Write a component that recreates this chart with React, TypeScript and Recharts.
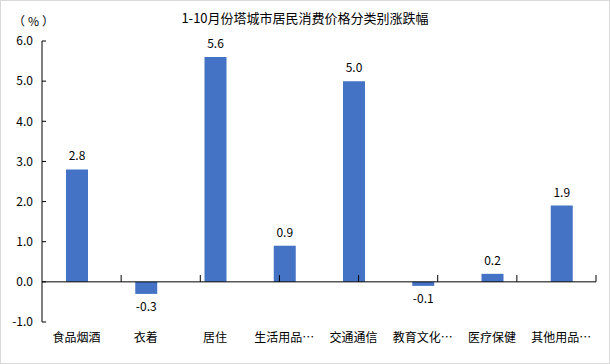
import React from 'react';
import { BarChart, Bar, XAxis, YAxis, ReferenceLine, LabelList } from 'recharts';

const categories = ['食品烟酒', '衣着', '居住', '生活用品…', '交通通信', '教育文化…', '医疗保健', '其他用品…'];
const changes = [2.8, -0.3, 5.6, 0.9, 5.0, -0.1, 0.2, 1.9];
const yTicks = [-1, 0, 1, 2, 3, 4, 5, 6];
const boundaries = [1, 2, 3, 4, 5, 6, 7, 8];

const data = categories.map((name, i) => ({ name, value: changes[i] }));

const FONT = "SimSun, 'Noto Sans CJK SC', sans-serif";

const ValueLabel = (props: any) => {
  const { x, y, width, height, value } = props;
  const top = Math.min(y, y + height);
  const bottom = Math.max(y, y + height);
  const ty = value >= 0 ? top - 9 : bottom + 17;
  return (
    <text x={x + width / 2} y={ty} textAnchor="middle" fontSize={12} fill="#000" fontFamily={FONT}>
      {Number(value).toFixed(1)}
    </text>
  );
};

export default function App() {
  return (
    <div
      style={{
        position: 'absolute',
        left: 0,
        top: 0,
        width: 610,
        height: 364,
        boxSizing: 'border-box',
        border: '1px solid #d9d9d9',
        background: '#fff',
        fontFamily: FONT,
      }}
    >
      <div style={{ position: 'absolute', left: 0, top: 9, width: 608, textAlign: 'center', fontSize: 13, lineHeight: '16px' }}>
        1-10月份塔城市居民消费价格分类别涨跌幅
      </div>
      <div style={{ position: 'absolute', left: 12, top: 12, fontSize: 12, lineHeight: '16px', letterSpacing: 3 }}>（%）</div>
      <BarChart width={608} height={362} data={data} margin={{ top: 40, right: 13, bottom: 11, left: 0 }}>
        <XAxis
          dataKey="name"
          axisLine={false}
          tickLine={false}
          tickSize={0}
          tickMargin={11}
          height={30}
          interval={0}
          tick={{ fontSize: 12, fill: '#000', fontFamily: FONT }}
        />
        <XAxis xAxisId="grid" type="number" domain={[0, 8]} hide />
        <YAxis
          domain={[-1, 6]}
          ticks={yTicks}
          width={41}
          tickSize={-4}
          tickMargin={13}
          interval={0}
          axisLine={{ stroke: '#000' }}
          tickLine={{ stroke: '#000' }}
          tickFormatter={(v: number) => v.toFixed(1)}
          tick={{ fontSize: 12, fill: '#000', fontFamily: FONT }}
        />
        <ReferenceLine y={0} stroke="#000" />
        {boundaries.map((b) => (
          <ReferenceLine
            key={b}
            xAxisId="grid"
            segment={[{ x: b, y: 0 }, { x: b, y: 0.17 }]}
            stroke="#000"
          />
        ))}
        <Bar dataKey="value" fill="#4472C4" barSize={22} isAnimationActive={false}>
          <LabelList dataKey="value" content={ValueLabel} />
        </Bar>
      </BarChart>
    </div>
  );
}
